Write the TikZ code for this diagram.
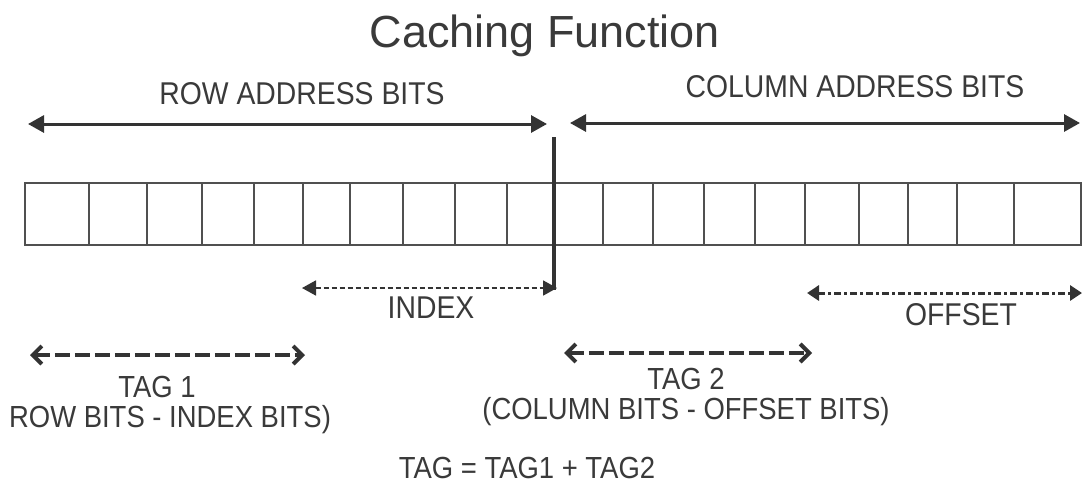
\documentclass[tikz,border=0pt]{standalone}
\usepackage{fontspec}
\setmainfont{Liberation Sans}
\newfontfamily\lblfont{Liberation Sans}[FakeStretch=0.9]
\usetikzlibrary{arrows.meta}
\definecolor{ink}{HTML}{333333}
\definecolor{txt}{HTML}{3a3a3a}
\definecolor{cellc}{HTML}{505050}
\begin{document}
\begin{tikzpicture}[x=1pt,y=-1pt,
  lbl/.style={font=\lblfont\fontsize{31.5}{34}\selectfont, text=txt, inner sep=0pt, anchor=base},
  twolines/.style={font=\lblfont\fontsize{30.5}{29.5}\selectfont, text=txt, inner sep=0pt, align=center, anchor=base},
  ttl/.style={font=\fontsize{45}{50}\selectfont, text=txt, inner sep=0pt, anchor=base},
  spanarrow/.style={draw=ink, line width=3pt, {Triangle[length=16pt,width=17pt]}-{Triangle[length=16pt,width=17pt]}},
  indexarrow/.style={draw=ink, line width=1.8pt, dash pattern=on 5pt off 3pt, {Triangle[length=14pt,width=15pt]}-{Triangle[length=14pt,width=15pt]}},
  offsetarrow/.style={draw=ink, line width=3pt, dash pattern=on 7pt off 3pt on 3pt off 3pt, {Triangle[length=12pt,width=15pt]}-{Triangle[length=12pt,width=15pt]}},
  tagarrow/.style={draw=ink, line width=4.5pt, dash pattern=on 15pt off 5pt, {Straight Barb[length=9pt,width=18pt,line width=4pt]}-{Straight Barb[length=9pt,width=18pt,line width=4pt]}},
  cellline/.style={draw=cellc, line width=1.5pt},
  divider/.style={draw=ink, line width=4pt}
]
\useasboundingbox[fill=white] (0,0) rectangle (1083,488);

% title
\node[ttl] (title) at (545,47) {Caching Function};

% top labels and span arrows
\node[lbl] (rowlbl) at (302,104) {ROW ADDRESS BITS};
\node[lbl] (collbl) at (855,97) {COLUMN ADDRESS BITS};
\coordinate (rowL) at (28,124);
\coordinate (rowR) at (547,124);
\coordinate (colL) at (570,123);
\coordinate (colR) at (1080,123);
\draw[spanarrow] (rowL) -- (rowR);
\draw[spanarrow] (colL) -- (colR);

% bit cells
\foreach \a/\b [count=\i] in {25/89, 89/147, 147/202, 202/254, 254/303, 303/350, 350/403, 403/455, 455/507, 507/554,
  554/603, 603/653, 653/704, 704/755, 755/805, 805/859, 859/908, 908/957, 957/1014, 1014/1081}
  \draw[cellline] (\a,183) rectangle (\b,245) coordinate (cell\i);

% divider
\coordinate (dtop) at (554,137);
\coordinate (dbot) at (554,290);
\draw[divider] (dtop) -- (dbot);

% index
\coordinate (ixL) at (302,288);
\coordinate (ixR) at (557,288);
\draw[indexarrow] (ixL) -- (ixR);
\node[lbl] (idx) at (431,318) {INDEX};

% offset
\coordinate (ofL) at (807,293);
\coordinate (ofR) at (1082,293);
\draw[offsetarrow] (ofL) -- (ofR);
\node[lbl] (off) at (961,325) {OFFSET};

% tag 1
\coordinate (t1L) at (30,355);
\coordinate (t1R) at (305,355);
\draw[tagarrow] (t1L) -- (t1R);
\node[twolines] (tag1) at (170,427) {TAG 1\hspace*{26pt}\\ROW BITS - INDEX BITS)};

% tag 2
\coordinate (t2L) at (564,353);
\coordinate (t2R) at (812,353);
\draw[tagarrow] (t2L) -- (t2R);
\node[twolines] (tag2) at (686,419) {TAG 2\\(COLUMN BITS - OFFSET BITS)};

% formula
\node[lbl, font=\lblfont\fontsize{30.5}{34}\selectfont] (formula) at (527,478) {TAG = TAG1 + TAG2};
\end{tikzpicture}
\end{document}
